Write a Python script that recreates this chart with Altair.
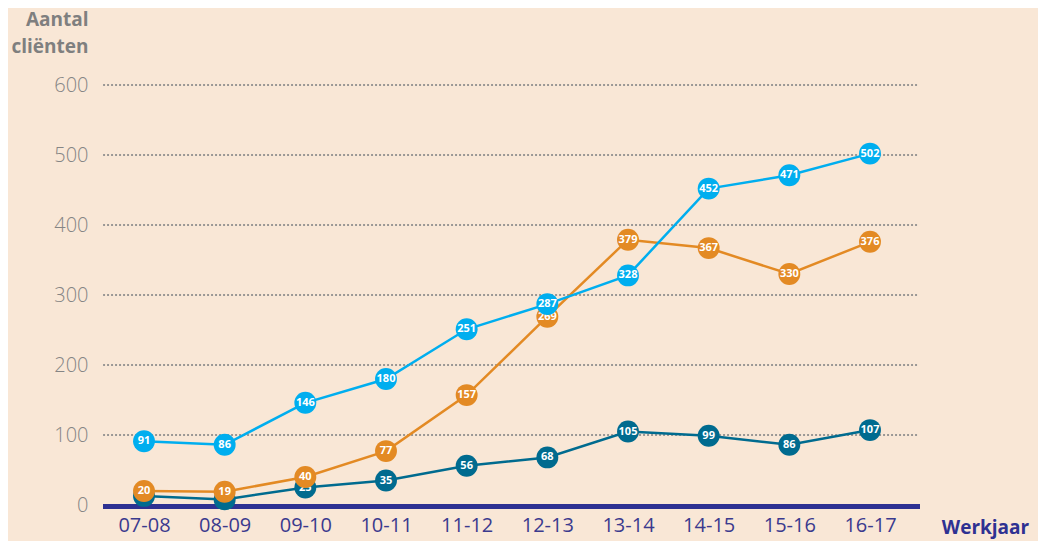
import altair as alt
import pandas as pd

years = ["07-08", "08-09", "09-10", "10-11", "11-12", "12-13", "13-14", "14-15", "15-16", "16-17"]
blue_vals = [91, 86, 146, 180, 251, 287, 328, 452, 471, 502]
orange_vals = [20, 19, 40, 77, 157, 269, 379, 367, 330, 376]
teal_vals = [13, 8, 25, 35, 56, 68, 105, 99, 86, 107]
y_ticks = [0, 100, 200, 300, 400, 500, 600]

series = [("teal", teal_vals, "#006B8F"), ("orange", orange_vals, "#E38A24"), ("blue", blue_vals, "#00AEEF")]

W, H = 817, 420
FONT = "Open Sans"

xscale = alt.Scale(domain=years, range=[41, 767], padding=0)
yscale = alt.Scale(domain=[0, 600])

xaxis = alt.Axis(title="Werkjaar", domain=False, ticks=False, labelAngle=0,
                 labelFontSize=20, labelColor="#3B3A8E", labelFont=FONT,
                 labelPadding=10, titleFontSize=19, titleFontWeight="bold",
                 titleColor="#2E3192", titleFont=FONT,
                 titleX=882, titleY=22, titleBaseline="middle", titleAlign="center",
                 titleAnchor="start")
yaxis = alt.Axis(values=y_ticks, title=["Aantal", "cliënten"], titleAngle=0,
                 titleAlign="right", titleBaseline="alphabetic", titleX=-15, titleY=-60,
                 titleLineHeight=27, titleFontSize=19, titleFontWeight="bold",
                 titleColor="#7F7F7F", titleFont=FONT,
                 domain=False, ticks=False, labelPadding=15, grid=False,
                 labelFontSize=20, labelColor="#858585", labelFont=FONT,
                 labelFontWeight=300)

def X():
    return alt.X("year:O", scale=xscale, sort=years, axis=xaxis)

def Y():
    return alt.Y("value:Q", scale=yscale, axis=yaxis)

grid = alt.Chart(pd.DataFrame({"value": y_ticks[1:]})).mark_rule(
    color="#8C8C8C", strokeWidth=2.2, strokeDash=[0.1, 3.9], strokeCap="round").encode(
    y=Y(), x=alt.value(1), x2=alt.value(W))

baseline = alt.Chart(pd.DataFrame({"value": [0]})).mark_rule(
    color="#2E3192", strokeWidth=5, yOffset=1.5).encode(
    y=Y(), x=alt.value(0), x2=alt.value(W))

layers = [grid]
for i, (name, vals, col) in enumerate(series):
    df = pd.DataFrame({"year": years, "value": vals})
    b = alt.Chart(df)
    line = b.mark_line(color=col, strokeWidth=2.5).encode(x=X(), y=Y())
    pts = b.mark_circle(color=col, size=480, opacity=1).encode(x=X(), y=Y())
    txt = b.mark_text(color="white", fontSize=11, fontWeight="bold", font=FONT).encode(
        x=X(), y=Y(), text="value:Q")
    layers.append(line)
    if i == 0:
        layers.append(baseline)
    layers.append(pts)
    layers.append(txt)

chart = alt.layer(*layers).properties(
    width=W, height=H,
    background="#F9E7D6",
    autosize=alt.AutoSizeParams(type="none"),
    padding={"left": 95, "top": 77, "right": 118, "bottom": 36},
).configure_view(stroke=None)

chart.save("out.html", embed_options={"renderer": "svg", "actions": False})
